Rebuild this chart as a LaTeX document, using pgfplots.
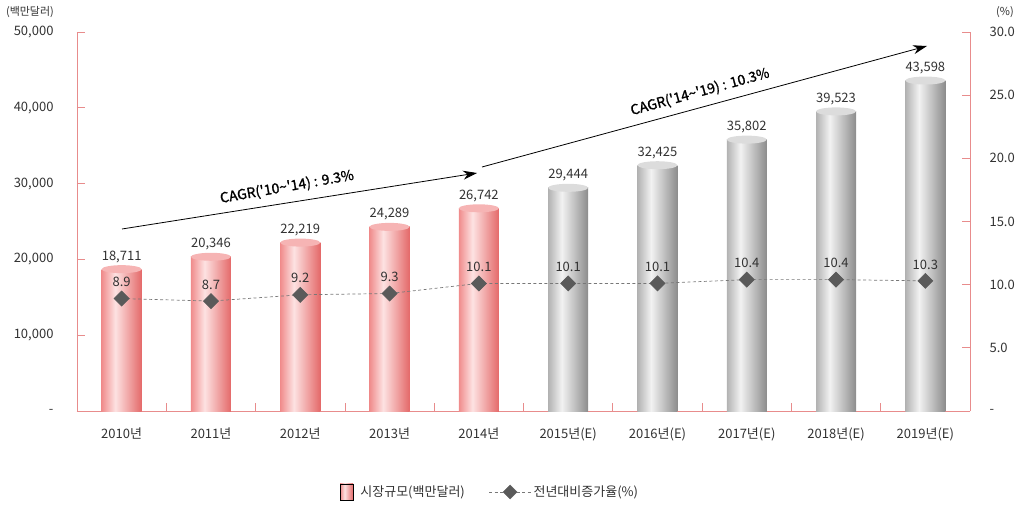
\documentclass[border=0pt]{standalone}
\usepackage{fontspec}
\setmainfont{Noto Sans CJK KR}
\newfontfamily\cagrfont{Noto Sans CJK KR}[FakeBold=1.2]
\usepackage{pgfplots}
\usepackage{pgfplotstable}
\pgfplotsset{compat=1.18}
\usetikzlibrary{arrows.meta}
\definecolor{axpink}{RGB}{232,140,140}
\definecolor{txt}{RGB}{50,50,50}
\definecolor{pinkA}{RGB}{240,140,140}
\definecolor{pinkB}{RGB}{253,226,226}
\definecolor{pinkC}{RGB}{228,105,105}
\definecolor{pinkCap}{RGB}{246,180,180}
\definecolor{grayA}{RGB}{178,178,178}
\definecolor{grayB}{RGB}{242,242,242}
\definecolor{grayC}{RGB}{140,140,140}
\definecolor{grayCap}{RGB}{220,220,220}
\definecolor{dia}{RGB}{90,90,90}
\definecolor{dashgray}{RGB}{120,120,120}
\pgfdeclarehorizontalshading{pinkcyl}{100bp}{color(0bp)=(pinkA); color(25bp)=(pinkA); color(42bp)=(pinkB); color(75bp)=(pinkC); color(100bp)=(pinkC)}
\pgfdeclarehorizontalshading{graycyl}{100bp}{color(0bp)=(grayA); color(25bp)=(grayA); color(42bp)=(grayB); color(75bp)=(grayC); color(100bp)=(grayC)}
\pgfdeclareplotmark{cap}{\pgfpathellipse{\pgfpointorigin}{\pgfqpoint{20pt}{0pt}}{\pgfqpoint{0pt}{4pt}}\pgfusepathqfill}

\pgfplotstableread{
x y lab
0 18711 {18,711}
1 20346 {20,346}
2 22219 {22,219}
3 24289 {24,289}
4 26742 {26,742}
}\barsA
\pgfplotstableread{
x y lab
5 29444 {29,444}
6 32425 {32,425}
7 35802 {35,802}
8 39523 {39,523}
9 43598 {43,598}
}\barsB
\pgfplotstableread{
x y lab
0 8.9 8.9
1 8.7 8.7
2 9.2 9.2
3 9.3 9.3
4 10.1 10.1
5 10.1 10.1
6 10.1 10.1
7 10.4 10.4
8 10.4 10.4
9 10.3 10.3
}\lineT

\begin{document}
\begin{tikzpicture}
\useasboundingbox (0,0) rectangle (1024pt,506pt);
\pgfplotsset{
  base/.style={
    at={(77pt,95pt)}, anchor=south west, scale only axis,
    width=893pt, height=379pt,
    xmin=-0.5, xmax=9.5, clip=false,
    axis line style={draw=axpink, line width=0.7pt, -},
    every outer x axis line/.append style={-},
    every outer y axis line/.append style={-},
    tick align=inside, major tick length=8pt,
    tick style={draw=axpink, line width=0.7pt},
    tick label style={font=\fontsize{13}{15}\selectfont, text=txt},
    scaled y ticks=false,
  },
  cylbar/.style={ybar, bar width=40pt, bar shift=0pt, draw=none, shade, shading=#1,
    nodes near coords, point meta=explicit symbolic,
    nodes near coords style={font=\fontsize{13}{15}\selectfont, text=txt, yshift=3pt}},
}
\begin{axis}[base,
  ymin=0, ymax=50000,
  axis x line*=bottom, axis y line*=left,
  xtick={0.5,1.5,...,8.5}, xticklabels={},
  extra x ticks={0,1,2,3,4,5,6,7,8,9},
  extra x tick labels={2010년,2011년,2012년,2013년,2014년,2015년(E),2016년(E),2017년(E),2018년(E),2019년(E)},
  extra x tick style={major tick length=0pt, xticklabel style={yshift=-13pt}},
  ytick={0,10000,20000,30000,40000,50000},
  yticklabels={-,{10,000},{20,000},{30,000},{40,000},{50,000}},
  yticklabel style={xshift=-20pt},
]
\addplot[cylbar=pinkcyl, restrict x to domain=-0.2:0.2] table[x=x, y=y, meta=lab]{\barsA};
\addplot[cylbar=pinkcyl, restrict x to domain=0.8:1.2] table[x=x, y=y, meta=lab]{\barsA};
\addplot[cylbar=pinkcyl, restrict x to domain=1.8:2.2] table[x=x, y=y, meta=lab]{\barsA};
\addplot[cylbar=pinkcyl, restrict x to domain=2.8:3.2] table[x=x, y=y, meta=lab]{\barsA};
\addplot[cylbar=pinkcyl, restrict x to domain=3.8:4.2] table[x=x, y=y, meta=lab]{\barsA};
\addplot[cylbar=graycyl, restrict x to domain=4.8:5.2] table[x=x, y=y, meta=lab]{\barsB};
\addplot[cylbar=graycyl, restrict x to domain=5.8:6.2] table[x=x, y=y, meta=lab]{\barsB};
\addplot[cylbar=graycyl, restrict x to domain=6.8:7.2] table[x=x, y=y, meta=lab]{\barsB};
\addplot[cylbar=graycyl, restrict x to domain=7.8:8.2] table[x=x, y=y, meta=lab]{\barsB};
\addplot[cylbar=graycyl, restrict x to domain=8.8:9.2] table[x=x, y=y, meta=lab]{\barsB};
\addplot[only marks, mark=cap, mark options={fill=pinkCap, draw=none}] table[x=x, y=y]{\barsA};
\addplot[only marks, mark=cap, mark options={fill=grayCap, draw=none}] table[x=x, y=y]{\barsB};
\end{axis}
\begin{axis}[base,
  ymin=0, ymax=30,
  axis x line=none, axis y line*=right,
  ytick={0,5,10,15,20,25,30},
  yticklabels={-,5.0,10.0,15.0,20.0,25.0,30.0},
  yticklabel style={xshift=16pt},
  legend style={at={(0.4625,-0.2137)}, anchor=center, draw=none, fill=none,
    legend columns=2, font=\fontsize{13}{15}\selectfont, text=txt,
    /tikz/every even column/.append style={column sep=22pt}},
]
\addlegendimage{legend image code/.code={\shade[shading=pinkcyl] (0pt,-8pt) rectangle (13pt,8pt);}}
\addlegendentry{\hspace{5pt}시장규모(백만달러)}
\addlegendimage{legend image code/.code={
  \draw[dashgray, line width=0.7pt, dash pattern=on 3pt off 2.5pt] (-8pt,0pt) -- (34pt,0pt);
  \fill[dia] (13pt,0pt) ++(-7pt,0pt) -- ++(7pt,7pt) -- ++(7pt,-7pt) -- ++(-7pt,-7pt) -- cycle;}}
\addlegendentry{전년대비증가율(\%)}
\addplot[forget plot, color=dashgray, line width=0.7pt, dash pattern=on 3pt off 2.5pt,
  mark=square*, mark size=5.3pt, mark options={rotate=45, solid, fill=dia, draw=dia},
  nodes near coords, point meta=explicit symbolic,
  nodes near coords style={font=\fontsize{13}{15}\selectfont, text=txt, yshift=8pt}]
  table[x=x, y=y, meta=lab]{\lineT};
\end{axis}
\node[font=\fontsize{11}{13}\selectfont, text=txt] at (30pt,494pt) {(백만달러)};
\node[font=\fontsize{11}{13}\selectfont, text=txt] at (1005pt,494pt) {(\%)};
\draw[line width=0.8pt, -{Stealth[length=14pt,width=9pt]}] (122pt,277pt) -- (477pt,333pt);
\draw[line width=0.8pt, -{Stealth[length=14pt,width=9pt]}] (482pt,339pt) -- (927pt,460pt);
\node[rotate=10, font={\cagrfont\fontsize{14}{16}\selectfont}] at (287pt,319pt) {CAGR('10\textasciitilde'14) : 9.3\%};
\node[rotate=15.5, font={\cagrfont\fontsize{14}{16}\selectfont}] at (700pt,414pt) {CAGR('14\textasciitilde'19) : 10.3\%};
\end{tikzpicture}
\end{document}
